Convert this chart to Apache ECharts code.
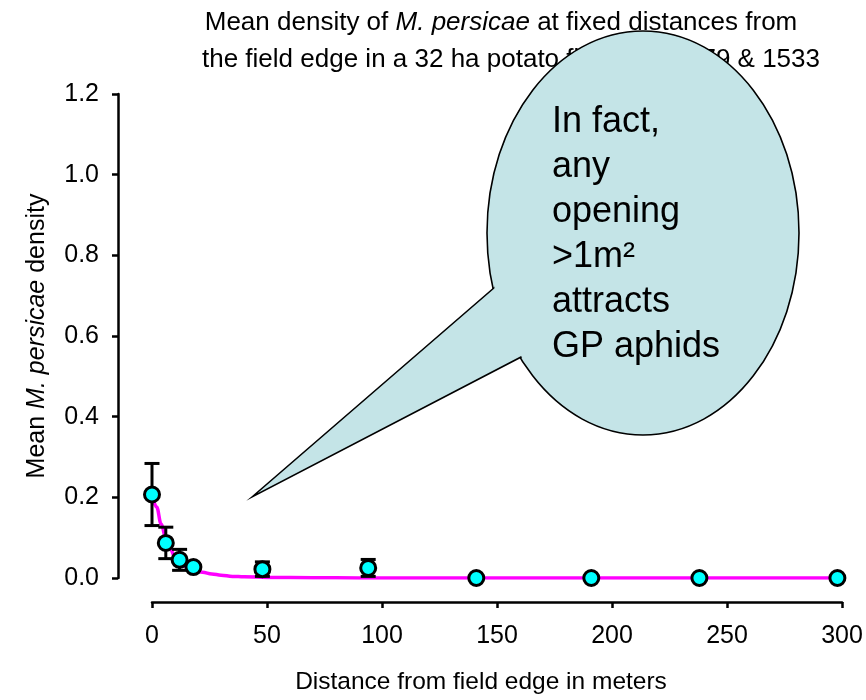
<!DOCTYPE html>
<html>
<head>
<meta charset="utf-8">
<script src="https://cdn.jsdelivr.net/npm/echarts@6/dist/echarts.min.js"></script>
<style>
html,body{margin:0;padding:0;background:#fff;}
#chart{width:866px;height:700px;}
</style>
</head>
<body>
<div id="chart"></div>
<script>
// ---- data ----
const distances = [0, 6, 12, 18, 48, 94, 141, 191, 238, 298];
const means     = [0.207, 0.087, 0.045, 0.027, 0.022, 0.025, 0.0, 0.0, 0.0, 0.0];
const errors    = [0.077, 0.039, 0.026, 0.008, 0.018, 0.021, 0, 0, 0, 0];

// fitted curve
const fitX = [0, 2, 4, 6, 8, 10, 12, 15, 18, 22, 26, 30, 35, 40, 50, 60, 80, 100, 150, 200, 250, 300];
const fitY = [0.207, 0.176, 0.134, 0.099, 0.071, 0.052, 0.039, 0.028, 0.020, 0.014, 0.010, 0.007, 0.004, 0.003, 0.0015, 0.001, 0.0005, 0, 0, 0, 0, 0];

const xTicks = [0, 50, 100, 150, 200, 250, 300];
const yTicks = [0.0, 0.2, 0.4, 0.6, 0.8, 1.0, 1.2];

const titleLine1 = 'Mean density of {i|M. persicae} at fixed distances from';
const titleLine2 = 'the field edge in a 32 ha potato field, n = 1279 & 1533';
const xName = 'Distance from field edge in meters';
const yName = 'Mean {i|M. persicae} density';
const bubbleLines = ['In fact,', 'any', 'opening', '>1m\u00B2', 'attracts', 'GP aphids'];

const FONT = '"Liberation Sans", Arial, Helvetica, sans-serif';

const scatterData = distances.map((d, i) => [d, means[i]]);
const errData = distances.map((d, i) => [d, means[i] - errors[i], means[i] + errors[i], errors[i]]);
const fitData = fitX.map((x, i) => [x, fitY[i]]);

const chart = echarts.init(document.getElementById('chart'), null, {renderer: 'canvas'});

// bubble geometry (annotation)
const ec = {cx: 643, cy: 233, rx: 156, ry: 202};
const tip = [252, 497];
const b1 = [517, 268];
const b2 = [546, 344];

const titleStyle = (txt) => ({
  text: txt, fontFamily: FONT, fontSize: 26, lineHeight: 37,
  fill: '#000', align: 'center', verticalAlign: 'top',
  rich: { i: { fontStyle: 'italic', fontFamily: FONT, fontSize: 26, lineHeight: 37, fill: '#000' } }
});

const option = {
  backgroundColor: '#ffffff',
  animation: false,
  grid: { left: 152, right: 24, top: 94, bottom: 122 },
  xAxis: {
    type: 'value', min: 0, max: 300, interval: 50,
    offset: 24,
    axisLine: { onZero: false, lineStyle: { color: '#000', width: 2.5 } },
    axisTick: { show: true, length: 6, lineStyle: { color: '#000', width: 2.5 } },
    axisLabel: { fontFamily: FONT, fontSize: 25, color: '#000', margin: 22 },
    splitLine: { show: false },
    name: xName, nameLocation: 'middle', nameGap: 68,
    nameTextStyle: { fontFamily: FONT, fontSize: 24.5, color: '#000', padding: [0, 32, 0, 0] }
  },
  yAxis: {
    type: 'value', min: 0, max: 1.2, interval: 0.2,
    offset: 34,
    axisLine: { show: true, onZero: false, lineStyle: { color: '#000', width: 2.5 } },
    axisTick: { show: true, length: 6, lineStyle: { color: '#000', width: 2.5 } },
    axisLabel: { fontFamily: FONT, fontSize: 25, color: '#000', margin: 19,
                 formatter: v => v.toFixed(1) },
    splitLine: { show: false },
    name: yName, nameLocation: 'middle', nameGap: 68,
    nameTextStyle: { fontFamily: FONT, fontSize: 25, color: '#000',
                     rich: { i: { fontStyle: 'italic', fontFamily: FONT, fontSize: 25, color: '#000' } } }
  },
  series: [
    {
      type: 'line', data: fitData, smooth: 0.4, smoothMonotone: 'x',
      showSymbol: false, symbol: 'none', z: 2,
      lineStyle: { color: '#FF00FF', width: 3.5 }
    },
    {
      type: 'custom', z: 3, data: errData,
      renderItem: function (params, api) {
        const e = api.value(3);
        if (!e) return null;
        const top = api.coord([api.value(0), api.value(2)]);
        const bot = api.coord([api.value(0), api.value(1)]);
        const hw = 7.5;
        const st = { stroke: '#000', lineWidth: 3 };
        return {
          type: 'group',
          children: [
            { type: 'line', shape: { x1: top[0], y1: top[1], x2: bot[0], y2: bot[1] }, style: st },
            { type: 'line', shape: { x1: top[0] - hw, y1: top[1], x2: top[0] + hw, y2: top[1] }, style: st },
            { type: 'line', shape: { x1: bot[0] - hw, y1: bot[1], x2: bot[0] + hw, y2: bot[1] }, style: st }
          ]
        };
      }
    },
    {
      type: 'scatter', data: scatterData, z: 4,
      symbol: 'circle', symbolSize: 15,
      itemStyle: { color: '#00FFFF', borderColor: '#000', borderWidth: 3, opacity: 1 }
    }
  ],
  graphic: [
    { type: 'text', z: 50, x: 501, y: 4, style: titleStyle(titleLine1) },
    { type: 'text', z: 50, x: 511, y: 41, style: titleStyle(titleLine2) },
    { type: 'ellipse', z: 100, shape: { cx: ec.cx, cy: ec.cy, rx: ec.rx, ry: ec.ry },
      style: { fill: '#C4E4E7', stroke: '#000', lineWidth: 1.6 } },
    { type: 'polygon', z: 101, shape: { points: [tip, b1, b2] },
      style: { fill: '#C4E4E7', stroke: '#000', lineWidth: 1.6, lineJoin: 'miter' } },
    { type: 'ellipse', z: 102, shape: { cx: ec.cx, cy: ec.cy, rx: ec.rx - 1.6, ry: ec.ry - 1.6 },
      style: { fill: '#C4E4E7', stroke: null } },
    { type: 'text', z: 103, x: 552, y: 100,
      style: { text: bubbleLines.join('\n'), fontFamily: FONT, fontSize: 36, lineHeight: 45,
               fill: '#000', align: 'left', verticalAlign: 'top' } }
  ]
};
chart.setOption(option);
</script>
</body>
</html>
